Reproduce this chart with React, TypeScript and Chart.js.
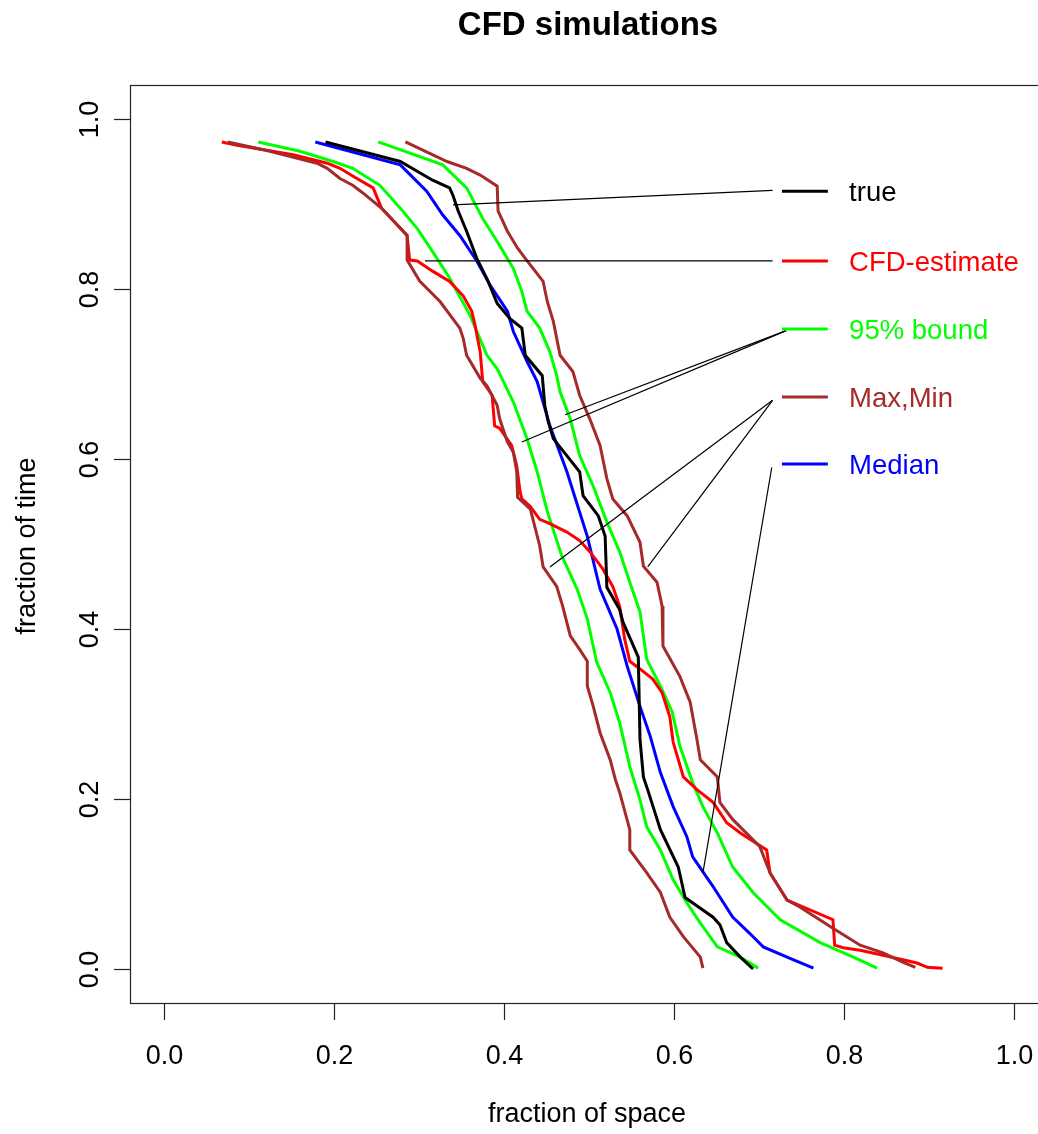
import React, { useEffect, useRef } from "react";
import { Chart, registerables } from "chart.js";

Chart.register(...registerables);

// ---- data (x = fraction of space, y = fraction of time) ----
const trueCurve: number[][] = [
  [0.190, 0.973], [0.278, 0.950], [0.316, 0.928], [0.336, 0.919], [0.340, 0.910], [0.346, 0.892],
  [0.356, 0.868], [0.368, 0.836], [0.380, 0.812], [0.392, 0.783], [0.407, 0.765], [0.421, 0.754],
  [0.425, 0.722], [0.445, 0.698], [0.448, 0.663], [0.452, 0.644], [0.458, 0.624], [0.489, 0.585],
  [0.493, 0.557], [0.511, 0.533], [0.519, 0.509], [0.521, 0.449], [0.536, 0.423], [0.540, 0.408],
  [0.558, 0.367], [0.560, 0.270], [0.564, 0.226], [0.569, 0.211], [0.584, 0.164], [0.605, 0.120],
  [0.613, 0.084], [0.646, 0.061], [0.654, 0.052], [0.662, 0.031], [0.678, 0.014], [0.693, 0.000],
];

const estimateCurve: number[][] = [
  [0.068, 0.973], [0.086, 0.969], [0.152, 0.958], [0.192, 0.948], [0.207, 0.942], [0.222, 0.933],
  [0.246, 0.919], [0.256, 0.895], [0.286, 0.863], [0.289, 0.834], [0.298, 0.833], [0.316, 0.821],
  [0.336, 0.809], [0.352, 0.792], [0.362, 0.774], [0.366, 0.757], [0.372, 0.726], [0.375, 0.691],
  [0.386, 0.675], [0.389, 0.639], [0.395, 0.636], [0.409, 0.616], [0.415, 0.592], [0.419, 0.561],
  [0.421, 0.553], [0.431, 0.544], [0.442, 0.529], [0.454, 0.524], [0.474, 0.514], [0.489, 0.504],
  [0.501, 0.491], [0.516, 0.471], [0.528, 0.450], [0.536, 0.427], [0.542, 0.388], [0.548, 0.362],
  [0.560, 0.353], [0.575, 0.341], [0.586, 0.325], [0.595, 0.297], [0.599, 0.267], [0.611, 0.226],
  [0.627, 0.211], [0.646, 0.196], [0.662, 0.172], [0.678, 0.160], [0.709, 0.140], [0.713, 0.113],
  [0.733, 0.081], [0.787, 0.058], [0.789, 0.028], [0.799, 0.025], [0.819, 0.022], [0.842, 0.017],
  [0.886, 0.007], [0.898, 0.002], [0.916, 0.001],
];

const boundLower: number[][] = [
  [0.111, 0.973], [0.160, 0.962], [0.199, 0.950], [0.222, 0.942], [0.254, 0.922], [0.278, 0.895],
  [0.298, 0.871], [0.316, 0.844], [0.336, 0.813], [0.360, 0.769], [0.380, 0.722], [0.392, 0.706],
  [0.411, 0.667], [0.427, 0.624], [0.439, 0.585], [0.451, 0.538], [0.468, 0.486], [0.486, 0.447],
  [0.498, 0.412], [0.509, 0.361], [0.525, 0.325], [0.536, 0.290], [0.548, 0.238], [0.560, 0.199],
  [0.568, 0.167], [0.584, 0.140], [0.599, 0.105], [0.615, 0.078], [0.631, 0.054], [0.651, 0.026],
  [0.678, 0.014], [0.699, 0.001],
];

const boundUpper: number[][] = [
  [0.252, 0.973], [0.328, 0.946], [0.356, 0.919], [0.375, 0.883], [0.395, 0.851], [0.411, 0.824],
  [0.421, 0.797], [0.427, 0.774], [0.442, 0.754], [0.454, 0.726], [0.462, 0.698], [0.466, 0.679],
  [0.478, 0.647], [0.489, 0.604], [0.505, 0.568], [0.521, 0.526], [0.536, 0.491], [0.548, 0.455],
  [0.560, 0.420], [0.568, 0.364], [0.584, 0.333], [0.598, 0.302], [0.607, 0.262], [0.622, 0.219],
  [0.634, 0.191], [0.651, 0.160], [0.669, 0.120], [0.693, 0.090], [0.725, 0.058], [0.772, 0.031],
  [0.811, 0.014], [0.839, 0.001],
];

const simMin: number[][] = [
  [0.075, 0.973], [0.121, 0.963], [0.180, 0.948], [0.192, 0.942], [0.207, 0.930], [0.222, 0.922],
  [0.234, 0.913], [0.256, 0.895], [0.286, 0.863], [0.286, 0.834], [0.301, 0.809], [0.325, 0.785],
  [0.348, 0.754], [0.352, 0.742], [0.356, 0.722], [0.372, 0.695], [0.380, 0.686], [0.392, 0.663],
  [0.395, 0.647], [0.404, 0.620], [0.411, 0.608], [0.415, 0.585], [0.416, 0.555], [0.431, 0.541],
  [0.442, 0.498], [0.446, 0.473], [0.462, 0.450], [0.469, 0.427], [0.478, 0.392], [0.489, 0.376],
  [0.498, 0.362], [0.498, 0.333], [0.505, 0.309], [0.513, 0.278], [0.525, 0.246], [0.531, 0.223],
  [0.536, 0.208], [0.548, 0.164], [0.548, 0.140], [0.568, 0.113], [0.584, 0.090], [0.595, 0.061],
  [0.611, 0.038], [0.631, 0.014], [0.634, 0.001],
];

const simMax: number[][] = [
  [0.284, 0.973], [0.333, 0.950], [0.356, 0.942], [0.372, 0.934], [0.392, 0.921], [0.393, 0.892],
  [0.404, 0.868], [0.416, 0.848], [0.425, 0.836], [0.446, 0.809], [0.451, 0.785], [0.458, 0.762],
  [0.466, 0.722], [0.481, 0.703], [0.489, 0.675], [0.501, 0.647], [0.513, 0.616], [0.521, 0.577],
  [0.528, 0.553], [0.545, 0.533], [0.560, 0.502], [0.564, 0.474], [0.580, 0.455], [0.586, 0.427],
  [0.587, 0.380], [0.607, 0.344], [0.619, 0.314], [0.627, 0.270], [0.631, 0.246], [0.651, 0.226],
  [0.654, 0.196], [0.669, 0.176], [0.701, 0.144], [0.713, 0.113], [0.733, 0.081], [0.748, 0.073],
  [0.787, 0.048], [0.819, 0.028], [0.846, 0.019], [0.869, 0.008], [0.884, 0.002],
];

const medianCurve: number[][] = [
  [0.178, 0.973], [0.278, 0.946], [0.309, 0.915], [0.328, 0.887], [0.348, 0.863], [0.368, 0.833],
  [0.384, 0.804], [0.404, 0.774], [0.411, 0.750], [0.427, 0.715], [0.439, 0.691], [0.454, 0.639],
  [0.474, 0.585], [0.498, 0.509], [0.513, 0.447], [0.533, 0.400], [0.545, 0.356], [0.560, 0.309],
  [0.572, 0.274], [0.584, 0.231], [0.599, 0.191], [0.615, 0.156], [0.622, 0.132], [0.646, 0.097],
  [0.669, 0.061], [0.689, 0.042], [0.705, 0.026], [0.740, 0.011], [0.764, 0.001],
];

// pointer lines from legend to curves
const pointerTrue: number[][] = [[0.340, 0.899], [0.716, 0.916]];
const pointerEstimate: number[][] = [[0.307, 0.833], [0.716, 0.833]];
const pointerBoundA: number[][] = [[0.472, 0.652], [0.732, 0.751]];
const pointerBoundB: number[][] = [[0.421, 0.620], [0.732, 0.751]];
const pointerMaxA: number[][] = [[0.454, 0.473], [0.716, 0.669]];
const pointerMaxB: number[][] = [[0.569, 0.473], [0.716, 0.669]];
const pointerMedian: number[][] = [[0.634, 0.113], [0.715, 0.590]];

const legendLabels = ["true", "CFD-estimate", "95% bound", "Max,Min", "Median"];
const legendColors = ["#000000", "#FF0000", "#00FF00", "#A52A2A", "#0000FF"];
const legendRowY = [0.915, 0.833, 0.753, 0.673, 0.594];

const xTicks = [0, 0.2, 0.4, 0.6, 0.8, 1.0];
const xTickLabels = ["0.0", "0.2", "0.4", "0.6", "0.8", "1.0"];
const yTicks = [0, 0.2, 0.4, 0.6, 0.8, 1.0];
const yTickLabels = ["0.0", "0.2", "0.4", "0.6", "0.8", "1.0"];

const titleText = "CFD simulations";
const xTitle = "fraction of space";
const yTitle = "fraction of time";

const FONT = '"Liberation Sans", Arial, Helvetica, sans-serif';

const mk = (pts: number[][], color: string, width: number) => ({
  data: pts.map(([x, y]) => ({ x, y })),
  borderColor: color,
  backgroundColor: color,
  borderWidth: width,
  pointRadius: 0,
  fill: false,
  tension: 0,
});

const overlay = {
  id: "overlay",
  afterDraw(chart: any) {
    const { ctx, chartArea: a } = chart;
    const xs = chart.scales.x;
    const ys = chart.scales.y;
    ctx.save();
    ctx.strokeStyle = "#222";
    ctx.lineWidth = 1.2;
    ctx.strokeRect(a.left + 0.5, a.top + 0.5, a.right - a.left, a.bottom - a.top);

    ctx.fillStyle = "#000";
    ctx.font = `27px ${FONT}`;
    ctx.textAlign = "center";
    ctx.textBaseline = "alphabetic";
    xTicks.forEach((v, i) => {
      const px = Math.round(xs.getPixelForValue(v)) + 0.5;
      ctx.beginPath();
      ctx.moveTo(px, a.bottom);
      ctx.lineTo(px, a.bottom + 17);
      ctx.stroke();
      ctx.fillText(xTickLabels[i], px, a.bottom + 61);
    });
    yTicks.forEach((v, i) => {
      const py = Math.round(ys.getPixelForValue(v)) + 0.5;
      ctx.beginPath();
      ctx.moveTo(a.left, py);
      ctx.lineTo(a.left - 16, py);
      ctx.stroke();
      ctx.save();
      ctx.translate(a.left - 32, py);
      ctx.rotate(-Math.PI / 2);
      ctx.fillText(yTickLabels[i], 0, 0);
      ctx.restore();
    });

    // axis titles
    const cx = (a.left + a.right) / 2;
    const cy = (a.top + a.bottom) / 2;
    ctx.fillText(xTitle, cx - 2, 1122);
    ctx.save();
    ctx.translate(35, cy + 2);
    ctx.rotate(-Math.PI / 2);
    ctx.fillText(yTitle, 0, 0);
    ctx.restore();

    // title
    ctx.font = `bold 33px ${FONT}`;
    ctx.fillText(titleText, cx - 1, 35);

    // legend
    ctx.font = `27.5px ${FONT}`;
    ctx.textAlign = "left";
    ctx.textBaseline = "middle";
    legendLabels.forEach((lab, i) => {
      const py = ys.getPixelForValue(legendRowY[i]);
      ctx.strokeStyle = legendColors[i];
      ctx.lineWidth = 3;
      ctx.beginPath();
      ctx.moveTo(xs.getPixelForValue(0.727), py);
      ctx.lineTo(xs.getPixelForValue(0.781), py);
      ctx.stroke();
      ctx.fillStyle = legendColors[i];
      ctx.fillText(lab, xs.getPixelForValue(0.806), py + 2);
    });
    ctx.restore();
  },
};

export default function App() {
  const ref = useRef<HTMLCanvasElement | null>(null);
  useEffect(() => {
    if (!ref.current) return;
    const chart = new Chart(ref.current, {
      type: "line",
      data: {
        datasets: [
          mk(pointerTrue, "#000000", 1.2),
          mk(pointerEstimate, "#000000", 1.2),
          mk(pointerBoundA, "#000000", 1.2),
          mk(pointerBoundB, "#000000", 1.2),
          mk(pointerMaxA, "#000000", 1.2),
          mk(pointerMaxB, "#000000", 1.2),
          mk(pointerMedian, "#000000", 1.2),
          mk(trueCurve, "#000000", 3),
          mk(simMax, "#A52A2A", 3),
          mk(simMin, "#A52A2A", 3),
          mk(estimateCurve, "#FF0000", 3),
          mk(medianCurve, "#0000FF", 3),
          mk(boundUpper, "#00FF00", 3),
          mk(boundLower, "#00FF00", 3),
        ] as any,
      },
      options: {
        responsive: false,
        animation: false,
        devicePixelRatio: 1,
        layout: { padding: { left: 130, right: 12, top: 85, bottom: 131 } },
        plugins: { legend: { display: false }, tooltip: { enabled: false }, title: { display: false } },
        scales: {
          x: { type: "linear", min: -0.04, max: 1.04, display: false },
          y: { type: "linear", min: -0.04, max: 1.04, display: false },
        },
        elements: { point: { radius: 0 }, line: { tension: 0 } },
      } as any,
      plugins: [overlay],
    });
    return () => chart.destroy();
  }, []);
  return (
    <div style={{ position: "absolute", left: 0, top: 0, width: 1038, height: 1134, overflow: "hidden", background: "#fff" }}>
      <canvas ref={ref} width={1060} height={1134} style={{ display: "block", width: 1060, height: 1134 }} />
    </div>
  );
}
